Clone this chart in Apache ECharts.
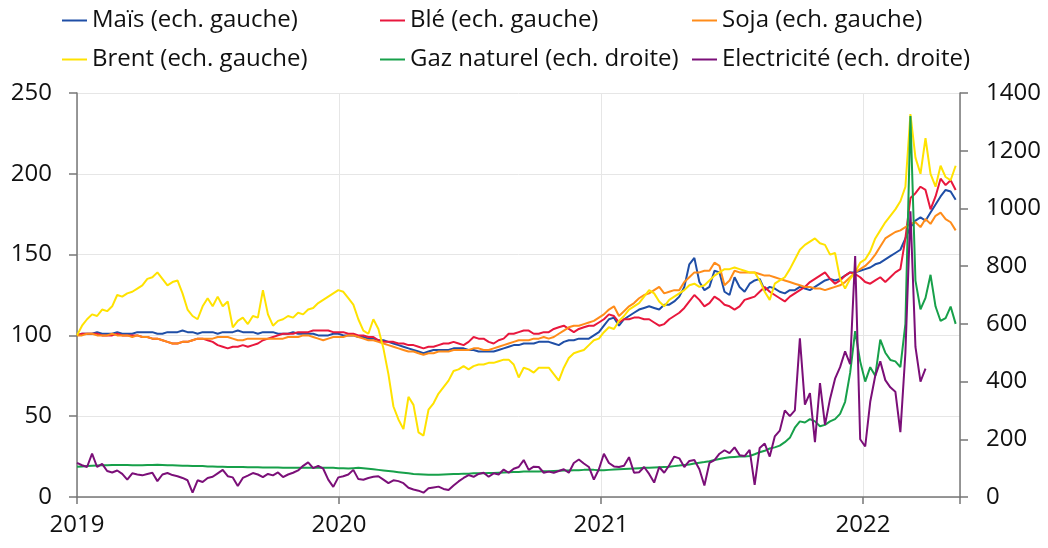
<!DOCTYPE html>
<html>
<head>
<meta charset="utf-8">
<script src="https://cdn.jsdelivr.net/npm/echarts@6/dist/echarts.min.js"></script>
<style>
  html, body { margin: 0; padding: 0; background: #fff; }
  #chart { width: 1048px; height: 548px; }
</style>
</head>
<body>
<div id="chart"></div>
<script>
// weekly observations, first week = 1 Jan 2019
var startDate = '2019-01-01';
var yearTicks = ['2019', '2020', '2021', '2022'];

// left scale (base 100)
var mais = [
  100,101,101,101,102,101,101,101,102,101,101,101,102,
  102,102,102,101,101,102,102,102,103,102,102,101,102,
  102,102,101,102,102,102,103,102,102,102,101,102,102,
  102,101,101,101,102,101,101,101,101,100,100,100,101,
  101,100,100,100,99,99,98,98,97,97,96,95,94,
  93,92,91,90,89,90,91,91,91,91,92,92,92,
  91,91,90,90,90,90,91,92,93,94,94,95,95,
  95,96,96,96,95,94,96,97,97,98,98,98,100,
  102,106,110,111,106,110,112,114,116,117,118,117,116,
  119,119,121,124,130,144,148,133,128,130,140,139,127,
  125,136,130,127,132,134,135,128,130,129,127,126,128,
  128,130,129,128,130,132,134,135,134,135,137,139,139,
  140,141,142,144,145,147,149,151,153,160,167,171,173,
  171,176,181,186,190,189,184
];
var ble = [
  100,101,101,101,101,100,100,100,101,100,100,100,100,
  99,99,98,98,97,96,95,95,96,96,97,98,98,
  97,96,94,93,92,93,93,94,93,94,95,97,98,
  99,100,101,101,101,102,102,102,103,103,103,103,102,
  102,102,101,101,100,100,99,99,97,96,96,96,95,
  95,94,94,93,92,93,93,94,95,95,96,95,94,
  96,99,98,98,96,95,97,98,101,101,102,103,103,
  101,101,102,102,104,105,106,104,102,104,105,106,106,
  108,110,113,112,108,110,110,111,111,110,110,108,106,
  107,110,112,114,117,121,125,122,118,120,124,122,119,
  118,116,118,122,123,124,127,130,127,125,123,121,124,
  126,128,130,133,135,137,139,135,132,134,137,139,138,
  136,133,132,134,136,133,136,139,141,160,185,188,192,
  190,178,186,197,193,196,190
];
var soja = [
  100,100,101,101,100,100,100,101,100,100,100,99,100,
  99,99,98,98,97,96,95,95,96,96,97,98,98,
  98,98,99,99,99,98,97,97,98,98,98,98,98,
  98,98,98,99,99,99,100,100,99,98,97,98,99,
  99,99,100,100,99,98,97,97,96,95,94,93,92,
  91,90,90,89,88,89,89,90,90,90,91,91,91,
  91,92,92,91,91,92,93,94,95,96,97,97,97,
  98,98,99,98,99,101,103,105,106,106,107,108,109,
  111,113,116,118,112,115,118,120,123,125,126,128,130,
  126,127,128,128,133,136,139,139,140,140,145,143,131,
  134,140,139,139,139,139,138,137,137,136,135,134,133,
  132,131,130,130,129,129,128,129,130,131,133,136,139,
  141,143,146,150,155,160,162,164,165,167,169,170,167,
  172,169,174,176,172,170,165
];
var brent = [
  100,106,110,113,112,116,115,118,125,124,126,127,129,
  131,135,136,139,135,131,133,134,126,116,112,110,118,
  123,118,124,118,121,105,109,111,107,112,111,128,113,
  106,109,110,112,111,114,113,116,117,120,122,124,126,
  128,127,123,119,110,103,101,110,104,92,76,56,48,
  42,62,57,40,38,54,58,64,68,72,78,79,81,
  79,81,82,82,83,83,84,85,85,82,74,80,79,
  77,80,80,80,76,72,80,86,89,90,91,94,97,
  98,102,105,104,109,112,116,118,120,124,128,126,121,
  118,122,124,126,128,131,132,130,131,134,137,139,141,
  141,142,141,140,139,139,134,127,122,132,134,136,141,
  147,153,156,158,160,157,156,150,151,135,129,135,139,
  145,147,152,160,165,170,174,178,183,192,237,210,200,
  222,200,192,205,198,196,205
];
// right scale
var gaz = [
  105,106,107,108,109,110,110,111,111,111,111,110,110,
  110,111,111,112,111,110,110,109,108,108,107,107,107,
  106,106,105,105,104,104,104,104,103,103,103,102,102,
  102,102,101,101,101,101,101,101,101,102,101,101,101,
  100,100,99,100,101,100,98,96,94,92,90,88,86,
  84,82,80,79,78,77,77,77,78,79,80,80,81,
  81,82,82,82,83,83,84,85,86,87,87,88,88,
  88,88,89,89,90,91,92,92,93,93,94,94,94,
  93,93,94,95,96,97,98,99,100,101,101,102,103,
  104,105,107,109,111,113,116,119,121,124,128,132,135,
  138,139,140,140,142,148,155,160,168,172,178,190,205,
  240,262,258,270,262,245,250,262,270,288,330,430,575,
  470,400,450,420,545,500,475,470,450,600,1320,750,650,
  690,770,660,610,620,660,600
];
var elec = [
  118,110,104,150,104,115,90,85,92,80,60,82,78,
  75,80,84,55,78,83,76,72,66,58,15,58,52,
  66,70,82,94,72,68,38,66,74,83,78,69,80,
  75,85,69,78,84,92,108,120,100,108,98,60,35,
  68,72,78,94,62,60,66,70,72,60,48,58,55,
  48,32,26,22,15,30,33,36,28,24,40,54,66,
  76,70,80,84,70,82,78,95,84,98,104,128,94,
  105,104,84,88,84,90,96,84,118,130,116,104,60,
  96,150,118,106,104,108,138,84,86,104,80,50,104,
  84,110,140,134,104,125,128,96,40,118,128,150,162,
  152,172,145,142,163,42,170,185,140,210,230,300,280,
  300,550,320,360,190,395,250,340,410,450,505,460,835,
  200,175,330,420,470,405,380,365,225,500,990,520,400,
  445
];

// date of week i as a fractional year, so year ticks land on 1 January
function weekToYear (i) {
  var t = Date.parse(startDate) + i * 7 * 86400000;
  var y = new Date(t).getUTCFullYear();
  var a = Date.UTC(y, 0, 1), b = Date.UTC(y + 1, 0, 1);
  return y + (t - a) / (b - a);
}
function pairs (arr) {
  return arr.map(function (v, i) { return [weekToYear(i), v]; });
}

var font = 'Open Sans';
var axisGrey = '#777';

var names = ['Maïs (ech. gauche)', 'Blé (ech. gauche)', 'Soja (ech. gauche)',
  'Brent (ech. gauche)', 'Gaz naturel (ech. droite)', 'Electricité (ech. droite)'];
var colors = ['#1f4ea6', '#e8173d', '#ff8c1a', '#ffe200', '#17a04a', '#7b0f78'];
var values = [mais, ble, soja, brent, gaz, elec];

function legendAt (left, items) {
  return {
    orient: 'vertical',
    left: left,
    top: 8,
    padding: 0,
    itemGap: 14,
    itemWidth: 25,
    itemHeight: 2,
    icon: 'rect',
    textStyle: { fontFamily: font, fontSize: 24, lineHeight: 25, color: '#111' },
    data: items
  };
}

var chart = echarts.init(document.getElementById('chart'));
chart.setOption({
  animation: false,
  legend: [
    legendAt(62, [names[0], names[3]]),
    legendAt(380, [names[1], names[4]]),
    legendAt(692, [names[2], names[5]])
  ],
  grid: { left: 77, right: 88, top: 93, bottom: 51 },
  xAxis: {
    type: 'value',
    min: 2019,
    max: 2022.37,
    interval: 1,
    axisLine: { lineStyle: { color: axisGrey, width: 1.5 } },
    axisTick: { length: 7, lineStyle: { color: axisGrey, width: 1.5 } },
    axisLabel: {
      margin: 16, fontFamily: font, fontSize: 24, color: '#111',
      formatter: function (v) {
        var s = String(v);
        return yearTicks.indexOf(s) >= 0 ? s : '';
      }
    },
    splitLine: { show: true, lineStyle: { color: '#e6e6e6' } }
  },
  yAxis: [{
    type: 'value',
    min: 0, max: 250, interval: 50,
    axisLine: { show: true, lineStyle: { color: axisGrey, width: 1.5 } },
    axisTick: { show: true, length: 8, lineStyle: { color: axisGrey, width: 1.5 } },
    axisLabel: { margin: 25, fontFamily: font, fontSize: 24, color: '#111' },
    splitLine: { lineStyle: { color: '#e6e6e6' } }
  }, {
    type: 'value',
    min: 0, max: 1400, interval: 200,
    axisLine: { show: true, lineStyle: { color: axisGrey, width: 1.5 } },
    axisTick: { show: true, length: 8, lineStyle: { color: axisGrey, width: 1.5 } },
    axisLabel: {
      margin: 26, fontFamily: font, fontSize: 24, color: '#111',
      formatter: function (v) { return String(v); }
    },
    splitLine: { show: false }
  }],
  series: names.map(function (n, k) {
    return {
      name: n,
      type: 'line',
      yAxisIndex: k >= 4 ? 1 : 0,
      data: pairs(values[k]),
      showSymbol: false,
      color: colors[k],
      lineStyle: { width: 2, color: colors[k] }
    };
  })
});
</script>
</body>
</html>
